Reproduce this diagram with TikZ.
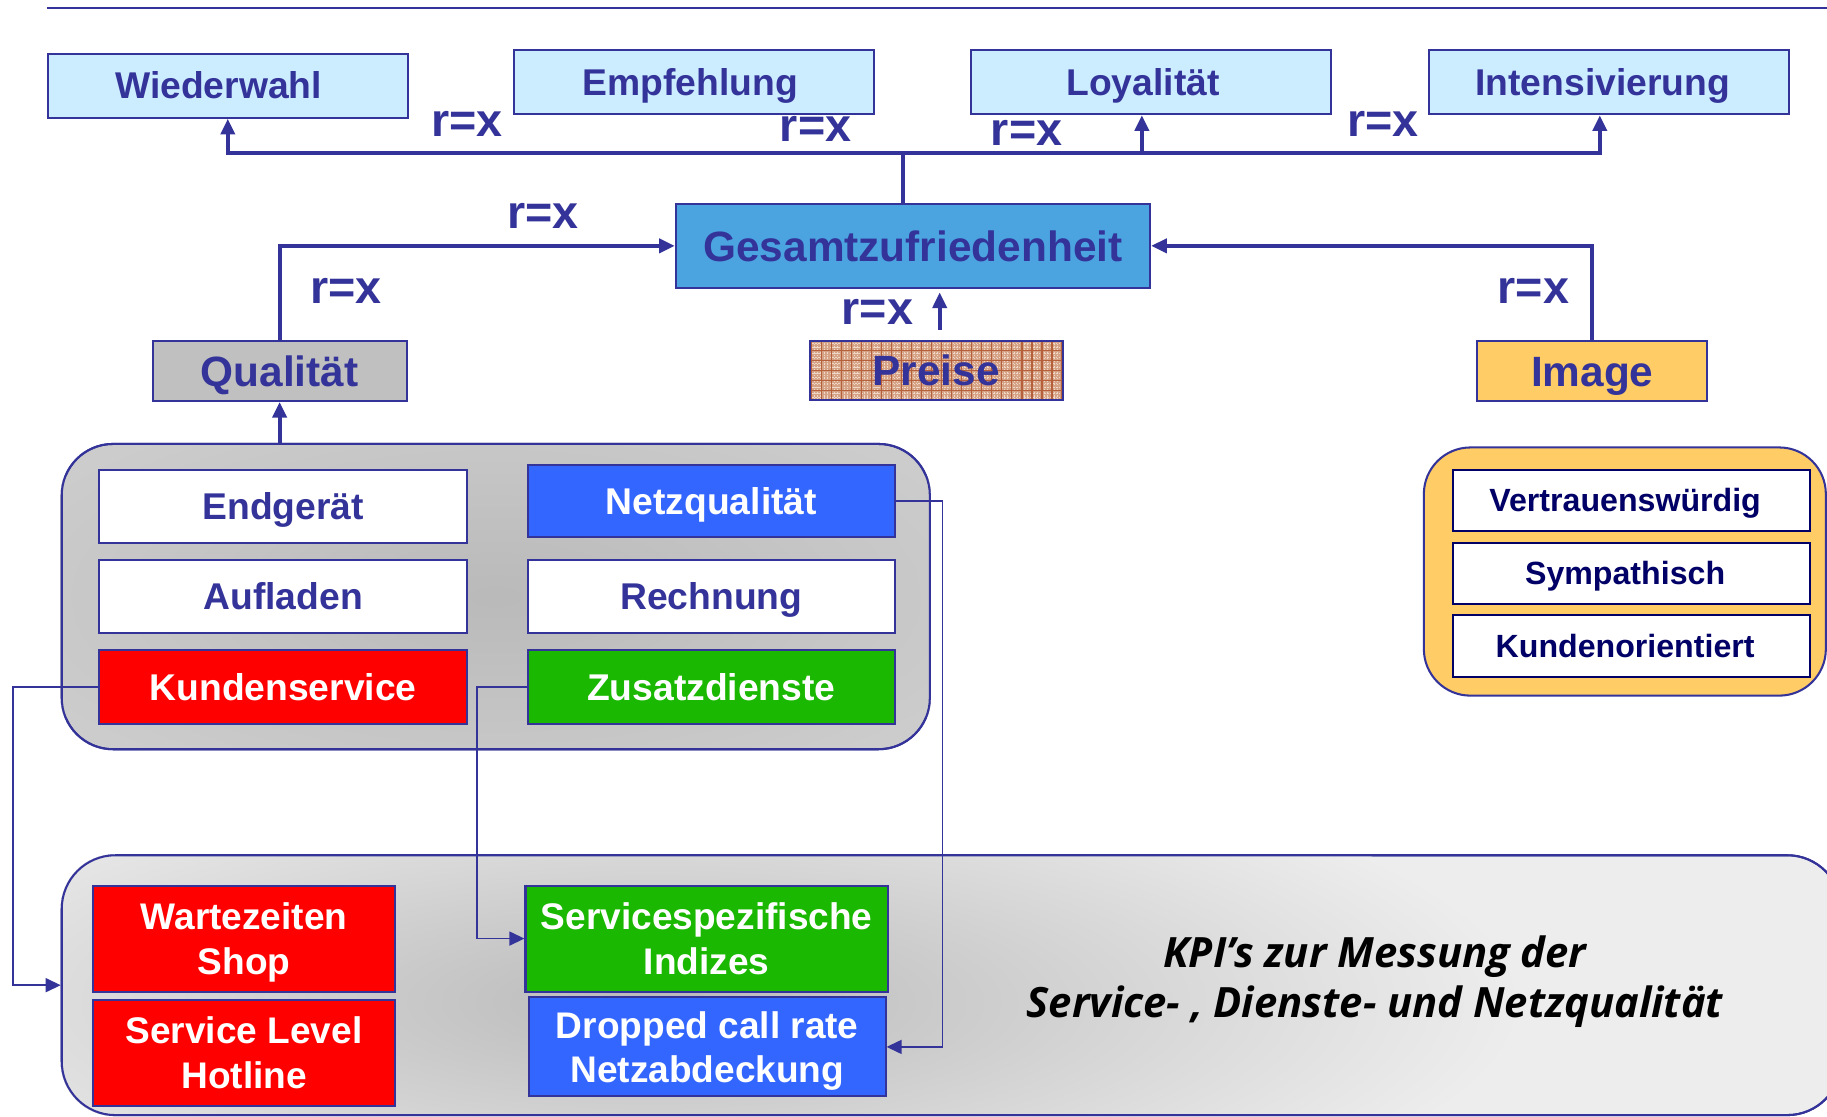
\documentclass[tikz,border=0pt]{standalone}
\usepackage{fontspec}
\setmainfont{Liberation Sans}
\newfontfamily\kpifont{Open Sans}
\usetikzlibrary{arrows.meta,calc}

\definecolor{navy}{HTML}{333399}
\definecolor{deepnavy}{HTML}{000066}
\definecolor{paleblue}{HTML}{CCECFF}
\definecolor{skyblue}{HTML}{4BA3E0}
\definecolor{netblue}{HTML}{3366FF}
\definecolor{signalred}{HTML}{FF0000}
\definecolor{servgreen}{HTML}{1AB800}
\definecolor{amber}{HTML}{FFCC66}
\definecolor{silver}{HTML}{C0C0C0}
\definecolor{groupgray}{HTML}{CCCCCC}
\definecolor{brick}{HTML}{D6A285}
\definecolor{brickline}{HTML}{B5603A}
\definecolor{brickhi}{HTML}{F0D8C8}

\tikzset{
  wh/.style 2 args={minimum width=#1*0.02cm, minimum height=#2*0.02cm},
  box/.style={draw=navy, line width=1pt, inner sep=0pt, text=navy},
  fA/.style={font=\bfseries\fontsize{18.2}{22}\selectfont, text height=13pt, text depth=0pt},
  fB/.style={font=\bfseries\fontsize{20.7}{25}\selectfont, text height=14.8pt, text depth=0pt},
  fC/.style={font=\bfseries\fontsize{15.7}{19}\selectfont, text height=11.2pt, text depth=0pt},
  fD/.style={font=\bfseries\fontsize{18.1}{21.8}\selectfont, align=center, text depth=0pt},
  rx/.style={font=\bfseries\fontsize{22.8}{27}\selectfont, text=navy, inner sep=0pt},
  flow/.style={draw=navy, line width=2pt, -{Triangle[length=0.27cm,width=0.24cm]}},
  link/.style={draw=navy, line width=0.9pt, -{Triangle[length=0.26cm,width=0.24cm]}},
  group/.style={draw=navy, line width=1pt, inner sep=0pt},
}

\begin{document}
\begin{tikzpicture}[x=0.02cm, y=-0.02cm]
\useasboundingbox (0,0) rectangle (1568,958);
\fill[white] (0,0) rectangle (1568,958);

% header rule
\draw[navy, line width=1.3pt] (40,7) -- (1568,7);

% outcome boxes
\node[box, fA, fill=paleblue, wh={309}{55}] (wied) at (195.5,73.5) {Wiederwahl\kern9pt};
\node[box, fA, fill=paleblue, wh={309}{55}] (empf) at (595.5,70.5) {Empfehlung\kern3.4pt};
\node[box, fA, fill=paleblue, wh={309}{55}] (loya) at (987.5,70.5) {Loyalität\kern7.4pt};
\node[box, fA, fill=paleblue, wh={309}{55}] (inte) at (1380.5,70.5) {Intensivierung\kern5.7pt};

% overall satisfaction and its drivers
\node[box, fB, fill=skyblue, wh={407}{72}] (gz) at (783.5,211) {Gesamtzufriedenheit};
\node[box, fB, fill=silver, wh={218}{51}] (qual) at (240,318.5) {Qualität};
\node[box, fB, fill=amber, wh={197}{51}] (image) at (1366.5,318.5) {Image};

% price box with woven texture
\node[fill=brick, inner sep=0pt, wh={217}{50}] (preisebg) at (803.5,318) {};
\begin{scope}
  \clip (preisebg.south west) rectangle (preisebg.north east);
  \draw[brickhi, line width=0.5pt, dash pattern=on 0.7pt off 0.7pt, step=0.0573cm] (680,280) grid (930,360);
  \draw[brickline, line width=0.6pt, step=0.172cm] (680,280) grid (930,360);
\end{scope}
\node[box, fB, wh={217}{50}] (preise) at (803.5,318) {Preise};

% quality group
\node[group, fill=groupgray, rounded corners=0.88cm, wh={745}{262}] (grp) at (425.5,512) {};
\begin{scope}
  \clip[rounded corners=0.88cm] (grp.south west) rectangle (grp.north east);
  \shade[inner color=silver!90!gray, outer color=groupgray] (425.5,512) ellipse [x radius=9cm, y radius=3.6cm];
\end{scope}
\node[group, rounded corners=0.88cm, wh={745}{262}] at (grp) {};

\node[box, fA, fill=white, wh={316}{63}] (endg) at (243,434.5) {Endgerät};
\node[box, fA, fill=netblue, text=white, wh={315}{62}] (netz) at (610.5,430) {Netzqualität};
\node[box, fA, fill=white, wh={316}{62}] (aufl) at (243,512) {Aufladen};
\node[box, fA, fill=white, wh={315}{62}] (rech) at (610.5,512) {Rechnung};
\node[box, fA, fill=signalred, text=white, wh={316}{63}] (kund) at (243,589.5) {Kundenservice};
\node[box, fA, fill=servgreen, text=white, wh={315}{63}] (zusa) at (610.5,589.5) {Zusatzdienste};

% image group
\node[group, fill=amber, rounded corners=0.8cm, wh={345}{213}] (imgrp) at (1394.5,490.5) {};
\node[box, fC, draw=deepnavy, text=deepnavy, fill=white, wh={306}{53}] (vert) at (1400,429.5) {Vertrauenswürdig\kern6pt};
\node[box, fC, draw=deepnavy, text=deepnavy, fill=white, wh={306}{52}] (symp) at (1400,492) {Sympathisch\kern6pt};
\node[box, fC, draw=deepnavy, text=deepnavy, fill=white, wh={306}{53}] (kdor) at (1400,554.5) {Kundenorientiert\kern6pt};

% KPI container
\node[group, fill=black!7, rounded corners=0.92cm, wh={1527}{223}] (bot) at (816.5,845.5) {};
\begin{scope}
  \clip[rounded corners=0.92cm] (bot.south west) rectangle (bot.north east);
  \shade[inner color=black!27, outer color=black!7] (560,860) ellipse [x radius=15cm, y radius=4.4cm];
\end{scope}
\node[group, rounded corners=0.92cm, wh={1527}{223}] at (bot) {};

\node[box, fD, fill=signalred, text=white, wh={259}{91}] (wart) at (209.5,805.5) {Wartezeiten\\Shop};
\node[box, fD, fill=signalred, text=white, wh={259}{91}] (slh) at (209.5,903.5) {Service Level\\Hotline};
\node[box, fD, fill=servgreen, text=white, wh={311}{91}] (serv) at (606.5,805.5) {Servicespezifische\\Indizes};
\node[box, fD, fill=netblue, text=white, wh={306}{85}] (drop) at (607,898.5) {Dropped call rate\\Netzabdeckung};
\node[font=\kpifont\bfseries\itshape\fontsize{20.4}{24.5}\selectfont, align=center, text=black, text depth=0pt, inner sep=0pt] (kpi) at (1180,838.5)
  {KPI’s zur Messung der\\Service- , Dienste- und Netzqualität};

% satisfaction to outcomes
\coordinate (hub) at (775,131);
\draw[navy, line width=2pt] (hub |- gz.north) -- (hub);
\draw[flow] (hub) -| (wied.south);
\draw[flow] (hub) -| ([xshift=-0.15cm]loya.south);
\draw[flow] (hub) -| ([xshift=-0.15cm]inte.south);
\draw[navy, line width=2pt] (hub) -- (empf.south |- hub);

% drivers to satisfaction
\draw[flow] (qual.north) |- (gz.west);
\draw[flow] (image.north) |- (gz.east);
\draw[flow] ($(preise.north)+(3,-9)$) -- ($(preise.north |- gz.south)+(3,3)$);
\draw[flow] (qual.south |- grp.north) -- (qual.south);

% quality items to KPIs
\draw[link] (kund.west) -- ++(-73,0) |- (bot.west);
\draw[link] (zusa.west) -- ++(-43,0) |- (serv.west);
\draw[link] (netz.east) -- ++(40,0) |- (drop.east);

% correlation labels
\node[rx] (rx1) at (401,106) {r=x};
\node[rx] (rx2) at (700,111) {r=x};
\node[rx] (rx3) at (881,114) {r=x};
\node[rx] (rx4) at (1187,106) {r=x};
\node[rx] (rx5) at (466,185) {r=x};
\node[rx] (rx6) at (297,250) {r=x};
\node[rx] (rx7) at (753,268) {r=x};
\node[rx] (rx8) at (1316,250) {r=x};
\end{tikzpicture}
\end{document}
